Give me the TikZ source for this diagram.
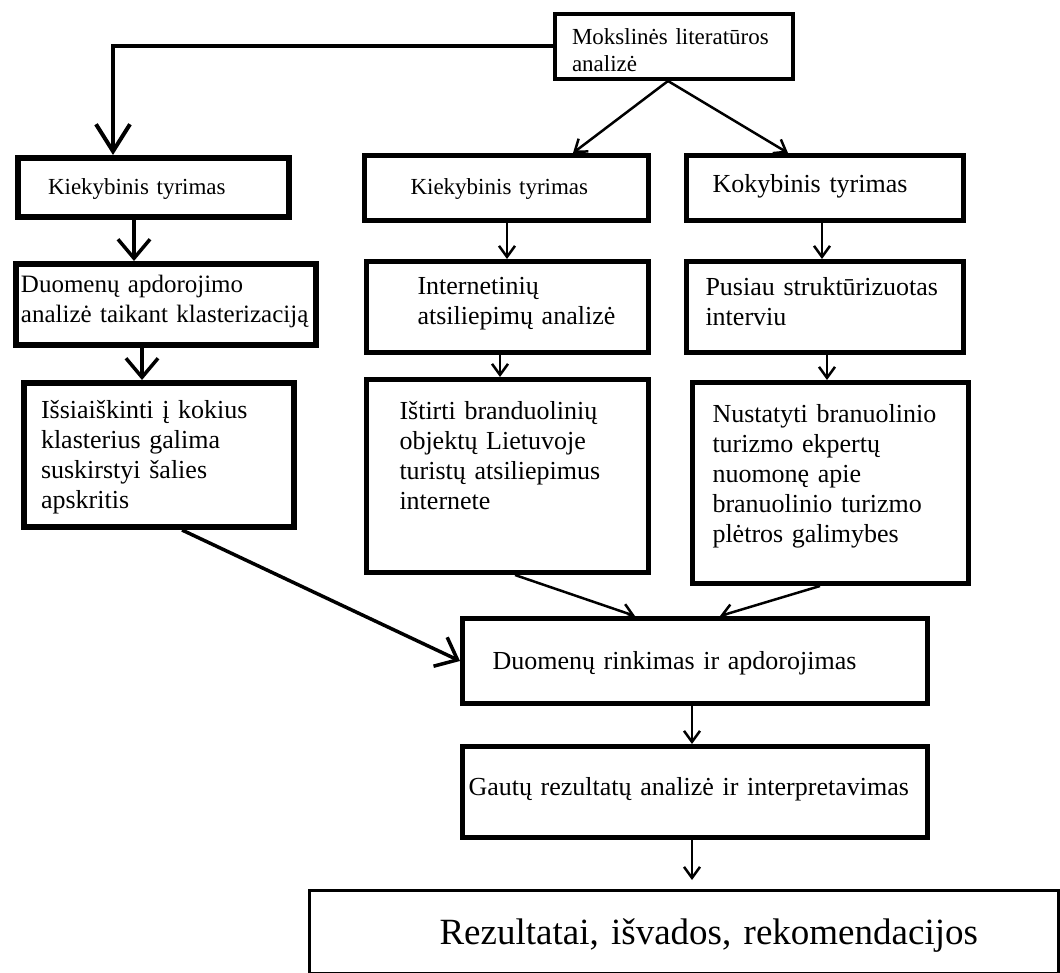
\documentclass[tikz,border=0pt]{standalone}
\usepackage{fontspec}
\setmainfont{Liberation Serif}
\usepackage{xcolor}
\usetikzlibrary{arrows.meta}
\newcommand\fs[2]{\fontsize{#1}{#2}\selectfont}
\tikzset{
  box/.style={draw=black, line width=5pt, anchor=north west, inner sep=0pt, align=left, font=\fs{26}{30}},
  lpad/.style={execute at begin node={\leftskip=#1\relax}},
  bigarr/.style={draw=black, line width=4pt, -{Straight Barb[length=27pt,width=34pt]}},
  midarr/.style={draw=black, line width=3.5pt, -{Straight Barb[length=19pt,width=32pt]}},
  thinarr/.style={draw=black, line width=2.5pt, -{Straight Barb[length=11pt,width=16pt]}}
}

\begin{document}
\begin{tikzpicture}[x=1pt, y=-1pt]
  \fill[white] (0,0) rectangle (1060,973);
  \useasboundingbox (0,0) rectangle (1060,973);

  % top
  \node[box, line width=4pt, font=\fs{23}{27}, text width=238pt, text height=31pt, text depth=34pt, lpad=17pt] (lit) at (553,12) {Mokslinės literatūros\\analizė};

  % left column
  \node[box, line width=6pt, font=\fs{23}{27}, text width=271pt, text height=37pt, text depth=22pt, lpad=30pt] (lk) at (15,155) {Kiekybinis tyrimas};
  \node[box, line width=6pt, font=\fs{25}{30}, text width=300pt, text height=29pt, text depth=52pt, lpad=5pt] (dap) at (13,261) {Duomenų apdorojimo\\analizė taikant klasterizaciją};
  \node[box, line width=6pt, text width=270pt, text height=35pt, text depth=109pt, lpad=17pt] (iss) at (21,380) {Išsiaiškinti į kokius\\klasterius galima\\suskirstyi šalies\\apskritis};

  % middle column
  \node[box, font=\fs{23}{27}, text width=284pt, text height=39pt, text depth=26pt, lpad=46pt] (mk) at (362,153) {Kiekybinis tyrimas};
  \node[box, text width=282pt, text height=33pt, text depth=58pt, lpad=51pt] (int) at (364,259) {Internetinių\\atsiliepimų analizė};
  \node[box, text width=282pt, text height=40pt, text depth=153pt, lpad=33pt] (ist) at (364,377) {Ištirti branduolinių\\objektų Lietuvoje\\turistų atsiliepimus\\internete};

  % right column
  \node[box, text width=277pt, text height=37pt, text depth=28pt, lpad=26pt] (kok) at (684,153) {Kokybinis tyrimas};
  \node[box, text width=277pt, text height=34pt, text depth=57pt, lpad=19pt] (pus) at (684,259) {Pusiau struktūrizuotas\\interviu};
  \node[box, text width=276pt, text height=40pt, text depth=161pt, lpad=20pt] (nus) at (690,380) {Nustatyti branuolinio\\turizmo ekpertų\\nuomonę apie\\branuolinio turizmo\\plėtros galimybes};

  % bottom
  \node[box, text width=465pt, text height=51pt, text depth=34pt, lpad=30pt] (drk) at (460,616) {Duomenų rinkimas ir apdorojimas};
  \node[box, text width=465pt, text height=49pt, text depth=42pt, lpad=6pt] (gau) at (460,744) {Gautų rezultatų analizė ir interpretavimas};
  \node[box, line width=3pt, font=\fs{37}{44}, text width=749pt, text height=54pt, text depth=29pt, lpad=130pt] (rez) at (308,889) {Rezultatai, išvados, rekomendacijos};

  % arrows
  \draw[bigarr] (lit.west) -| (lk.north -| 113,0);
  \draw[midarr] (lk.south -| 134,0) -- (dap.north -| 134,0);
  \draw[midarr] (dap.south -| 142,0) -- (iss.north -| 142,0);
  \draw[midarr] (iss.south -| 182,0) -- (drk.west);

  \draw[thinarr] (lit.south -| 668,0) -- (mk.north -| 573,0);
  \draw[thinarr] (lit.south -| 668,0) -- (kok.north -| 788,0);
  \draw[thinarr] (mk.south -| 507,0) -- (int.north -| 507,0);
  \draw[thinarr] (int.south -| 500,0) -- (ist.north -| 500,0);
  \draw[thinarr] (kok.south -| 822,0) -- (pus.north -| 822,0);
  \draw[thinarr] (pus.south -| 827,0) -- (nus.north -| 827,0);

  \draw[thinarr] (ist.south -| 515,0) -- (drk.north -| 635,0);
  \draw[thinarr] (nus.south -| 820,0) -- (drk.north -| 720,0);
  \draw[thinarr] (drk.south -| 692,0) -- (gau.north -| 692,0);
  \draw[thinarr, shorten >=9pt] (gau.south -| 692,0) -- (rez.north -| 692,0);
\end{tikzpicture}
\end{document}
